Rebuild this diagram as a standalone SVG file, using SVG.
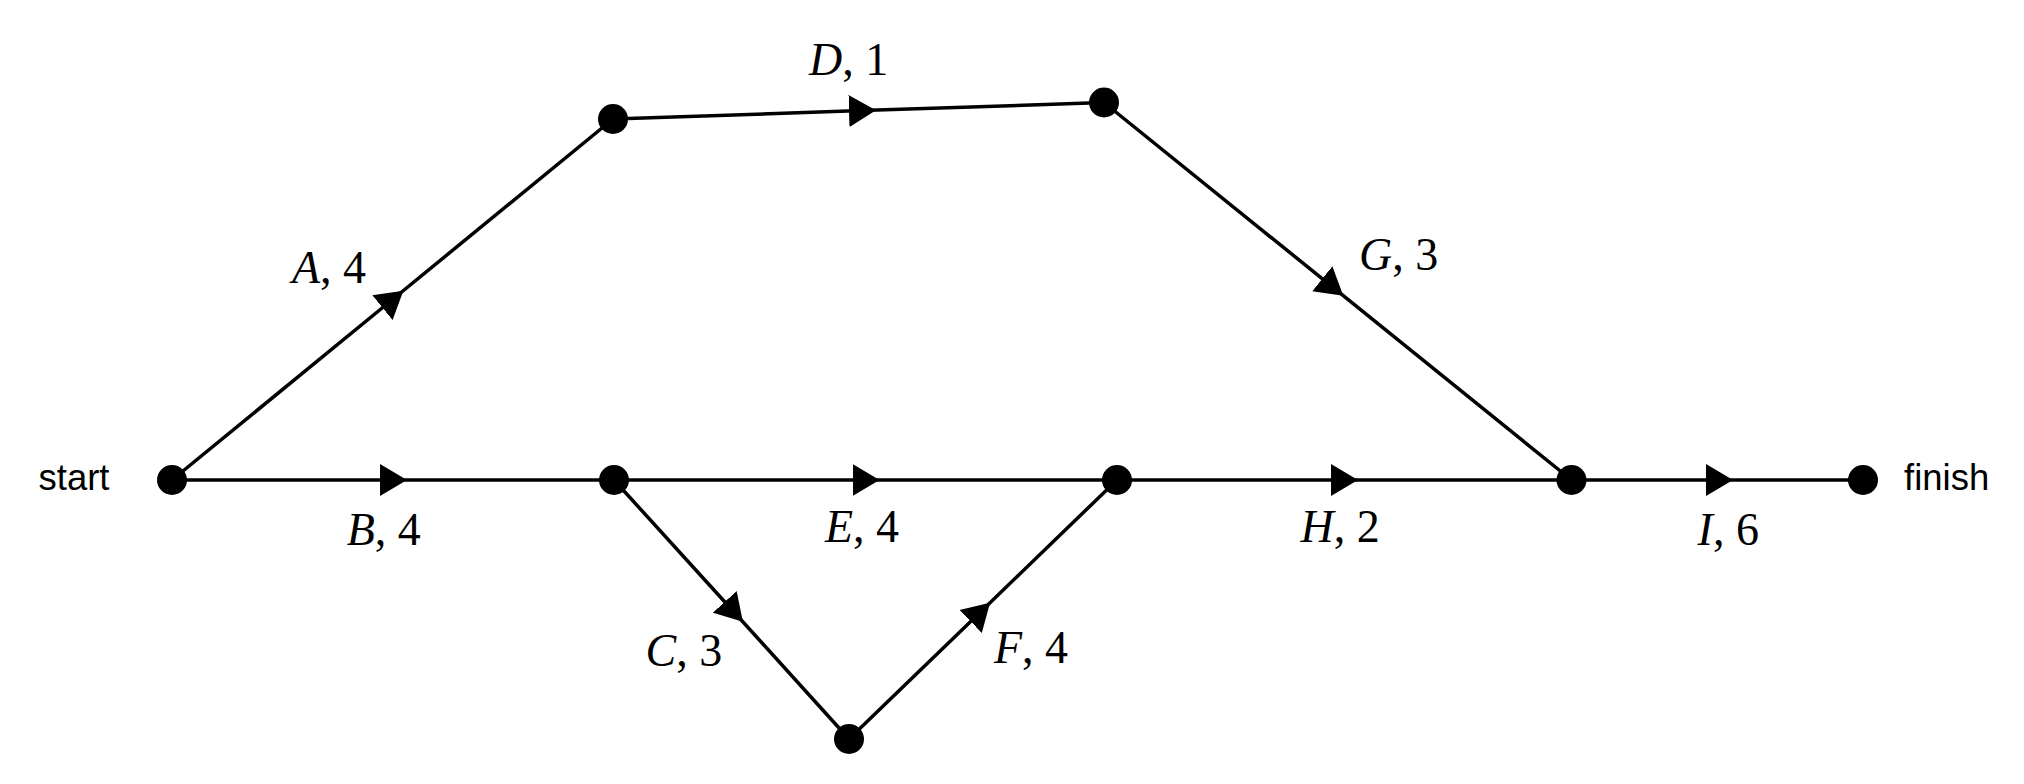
<svg xmlns="http://www.w3.org/2000/svg" width="2024" height="784" viewBox="0 0 2024 784">
<style>
.edge{fill:none;stroke:#000;stroke-width:3.5;marker-mid:url(#arrow)}
.node{fill:#000}
.lbl{font-family:"Liberation Serif","Times New Roman",serif;font-size:46px;fill:#000}
.lbl .v{font-style:italic}
.term{font-family:"Liberation Sans",Arial,sans-serif;font-size:36.5px;fill:#000}
</style>
<defs>
<marker id="arrow" markerUnits="userSpaceOnUse" markerWidth="28" markerHeight="33" viewBox="0 0 28 33" refX="13" refY="16.5" orient="auto">
<path d="M0,0.5 L27,16.5 L0,32.5 Z" fill="#000"/>
</marker>
</defs>
<rect width="2024" height="784" fill="#fff"/>
<g id="connectors">
<path id="edge-A" class="edge" d="M172,480 L392.5,299.5 L613,119"/>
<path id="edge-B" class="edge" d="M172,480 L393,480 L614,480"/>
<path id="edge-C" class="edge" d="M614,480 L733.5,611.5 L849,739"/>
<path id="edge-D" class="edge" d="M613,119 L862,110.6 L1104,102.5"/>
<path id="edge-E" class="edge" d="M614,480 L865.5,480 L1117,480"/>
<path id="edge-F" class="edge" d="M849,739 L980,612.4 L1117,480"/>
<path id="edge-G" class="edge" d="M1104,102.5 L1332.4,286.9 L1571.5,480"/>
<path id="edge-H" class="edge" d="M1117,480 L1344,480 L1571.5,480"/>
<path id="edge-I" class="edge" d="M1571.5,480 L1719,480 L1863,480"/>
</g>
<g id="node-start"><circle class="node" cx="172" cy="480" r="15"/><text class="term" x="38.5" y="490">start</text></g>
<g id="node-1"><circle class="node" cx="613" cy="119" r="15"/></g>
<g id="node-2"><circle class="node" cx="1104" cy="102.5" r="15"/></g>
<g id="node-3"><circle class="node" cx="614" cy="480" r="15"/></g>
<g id="node-4"><circle class="node" cx="849" cy="739" r="15"/></g>
<g id="node-5"><circle class="node" cx="1117" cy="480" r="15"/></g>
<g id="node-6"><circle class="node" cx="1571.5" cy="480" r="15"/></g>
<g id="node-finish"><circle class="node" cx="1863" cy="480" r="15"/><text class="term" x="1904" y="490">finish</text></g>
<g id="labels">
<text class="lbl" x="292" y="282.5"><tspan class="v">A</tspan>, 4</text>
<text class="lbl" x="809" y="75"><tspan class="v">D</tspan>, 1</text>
<text class="lbl" x="346.7" y="545"><tspan class="v">B</tspan>, 4</text>
<text class="lbl" x="825" y="542"><tspan class="v">E</tspan>, 4</text>
<text class="lbl" x="645.6" y="666"><tspan class="v">C</tspan>, 3</text>
<text class="lbl" x="994" y="663"><tspan class="v">F</tspan>, 4</text>
<text class="lbl" x="1359" y="270"><tspan class="v">G</tspan>, 3</text>
<text class="lbl" x="1300.6" y="542"><tspan class="v">H</tspan>, 2</text>
<text class="lbl" x="1697.6" y="545"><tspan class="v">I</tspan>, 6</text>
</g>
</svg>
